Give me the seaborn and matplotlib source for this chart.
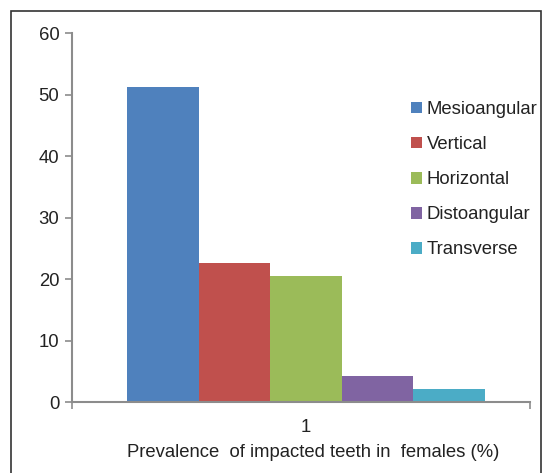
import matplotlib
matplotlib.use('Agg')
import matplotlib.pyplot as plt
import seaborn as sns
import pandas as pd
from matplotlib.patches import Rectangle

# data
types = ['Mesioangular', 'Vertical', 'Horizontal', 'Distoangular', 'Transverse']
prevalence = [51.2, 22.6, 20.5, 4.2, 2.1]
group = ['1'] * len(types)
colors = ['#4F81BD', '#C0504D', '#9BBB59', '#8064A2', '#4BACC6']

df = pd.DataFrame({'group': group, 'type': types, 'value': prevalence})

sns.set_style('white')
plt.rcParams['font.family'] = ['Liberation Sans', 'DejaVu Sans']

fig = plt.figure(figsize=(5.52, 4.73), dpi=100)
ax = fig.add_axes([0.130, 0.150, 0.830, 0.780])

sns.barplot(data=df, x='group', y='value', hue='type', palette=colors,
            width=0.78, dodge=True, saturation=1, linewidth=0, ax=ax, legend=True)

ax.set_xlim(-0.511, 0.489)
ax.set_ylim(0, 60)
ax.set_yticks(range(0, 61, 10))
ax.set_xlabel('Prevalence  of impacted teeth in  females (%)', fontsize=13.3, color='#222222')
ax.xaxis.set_label_coords(0.528, -0.113)
ax.set_ylabel('')

spine_col = '#8c8c8c'
for s in ['top', 'right']:
    ax.spines[s].set_visible(False)
for s in ['left', 'bottom']:
    ax.spines[s].set_color(spine_col)
    ax.spines[s].set_linewidth(1.5)

ax.tick_params(axis='y', left=True, length=5, width=1.2, color=spine_col, labelsize=13.3, labelcolor='#222222', pad=4)
ax.tick_params(axis='x', bottom=False, labelsize=13.3, labelcolor='#222222', pad=9)
ax.set_xticks([-0.511, 0.489], minor=True)
ax.tick_params(axis='x', which='minor', bottom=True, length=5, width=1.2, color=spine_col)

leg = ax.legend(loc='upper left', bbox_to_anchor=(411 / 552, 1 - 101 / 473), bbox_transform=fig.transFigure,
                frameon=False, fontsize=13.3, borderpad=0, borderaxespad=0,
                handlelength=0.6, handleheight=0.6, handletextpad=0.25, labelspacing=0.98)
for t in leg.get_texts():
    t.set_color('#222222')

# outer frame around the chart
fig.patches.append(Rectangle((11 / 552, -0.01), 530 / 552, 1 - 11 / 473 + 0.01,
                             transform=fig.transFigure, fill=False,
                             edgecolor='#333333', linewidth=1.2))

fig.savefig('out.png', dpi=100)
